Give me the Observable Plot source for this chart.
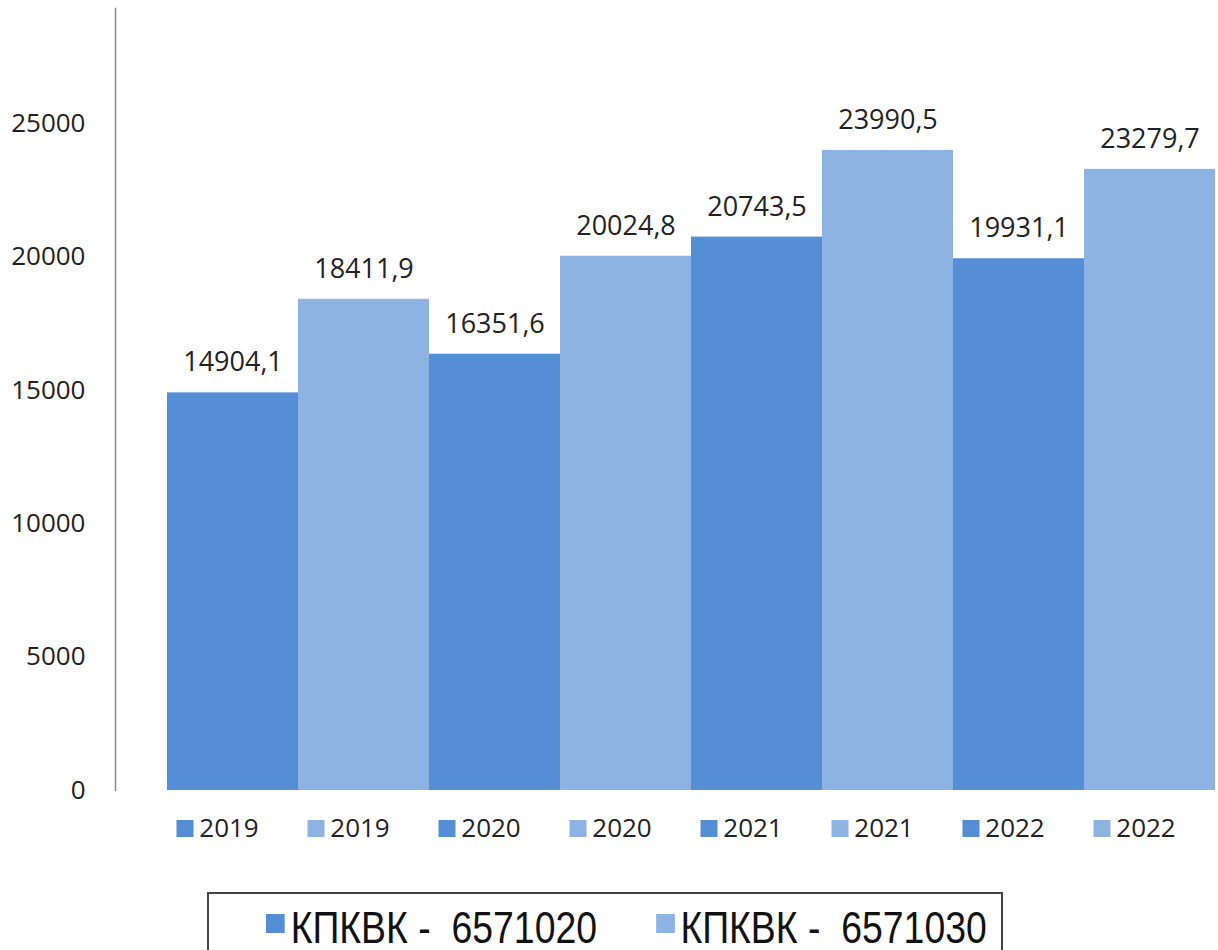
<!DOCTYPE html>
<html>
<head>
<meta charset="utf-8">
<script src="https://cdn.jsdelivr.net/npm/d3@7"></script>
<script src="https://cdn.jsdelivr.net/npm/@observablehq/plot@0.6"></script>
<style>
  html, body { margin: 0; padding: 0; background: #fff; overflow: hidden; }
  #chart svg { display: block; }
  #legend {
    position: absolute; left: 207px; top: 892px; width: 796px; height: 80px;
    border: 2px solid #444; box-sizing: border-box; background: #fff;
  }
  #legend .inner {
    position: absolute; left: 57px; top: 12px; white-space: nowrap;
    transform: scaleX(0.85); transform-origin: left top;
    font-family: "Liberation Sans", Arial, sans-serif; font-size: 44px; line-height: 44px; color: #111;
  }
  #legend .item { display: inline-block; margin-right: 69px; }
  #legend .sw { display: inline-block; width: 22px; height: 19px; margin-right: 7px; vertical-align: 10px; }
</style>
</head>
<body>
<div id="chart"></div>
<div id="legend"><div class="inner"></div></div>
<script>
const years = ["2019", "2020", "2021", "2022"];
const seriesNames = ["КПКВК -  6571020", "КПКВК -  6571030"];
const values6571020 = [14904.1, 16351.6, 20743.5, 19931.1];
const values6571030 = [18411.9, 20024.8, 23990.5, 23279.7];
const seriesColors = ["#558ed5", "#8db3e2"];
const yTicks = [0, 5000, 10000, 15000, 20000, 25000];

const data = [];
years.forEach((yr, i) => {
  data.push({key: yr + "-a", year: yr, series: seriesNames[0], value: values6571020[i]});
  data.push({key: yr + "-b", year: yr, series: seriesNames[1], value: values6571030[i]});
});
const fmt = v => v.toFixed(1).replace(".", ",");

const chart = Plot.plot({
  width: 1218,
  height: 852,
  marginTop: 8,
  marginBottom: 62,
  marginLeft: 115,
  marginRight: 0,
  style: {fontFamily: "'Open Sans', sans-serif", background: "#fff"},
  x: {domain: data.map(d => d.key), range: [164, 1217], padding: 0, axis: null},
  y: {domain: [0, 29310], axis: null},
  color: {domain: seriesNames, range: seriesColors},
  marks: [
    Plot.barY(data, {x: "key", y: "value", fill: "series", inset: 0}),
    Plot.axisY({ticks: yTicks, tickSize: 0, tickPadding: 30, tickFormat: d => String(d), fontSize: 26, fill: "#222", anchor: "left", label: null}),
    Plot.frame({anchor: "left", stroke: "#8a8a8a", strokeWidth: 1.5}),
    Plot.text(data, {x: "key", y: "value", text: d => fmt(d.value), dy: -30, fontSize: 27, fill: "#222"}),
    Plot.dot(data, {x: "key", frameAnchor: "bottom", dy: 38, dx: -48, symbol: "square", r: 9.6, fill: "series", stroke: null}),
    Plot.text(data, {x: "key", frameAnchor: "bottom", lineAnchor: "middle", dy: 38, dx: -4, text: "year", fontSize: 26, fill: "#222"})
  ]
});
document.getElementById("chart").appendChild(chart);

const inner = document.querySelector("#legend .inner");
seriesNames.forEach((s, i) => {
  const item = document.createElement("span");
  item.className = "item";
  const sw = document.createElement("span");
  sw.className = "sw";
  sw.style.background = seriesColors[i];
  item.appendChild(sw);
  item.appendChild(document.createTextNode(s.replace(/ /g, "\u00a0")));
  inner.appendChild(item);
});
</script>
</body>
</html>
